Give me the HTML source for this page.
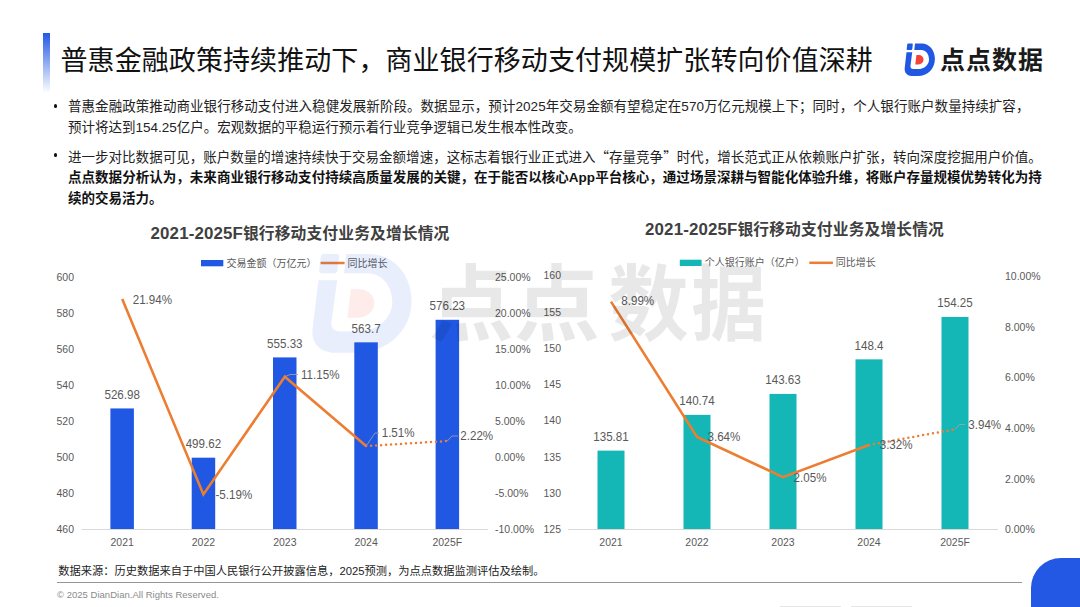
<!DOCTYPE html>
<html lang="zh-CN">
<head>
<meta charset="utf-8">
<style>
html,body{margin:0;padding:0;background:#fff;overflow:hidden;}
body{width:1080px;height:607px;overflow:hidden;position:relative;font-family:"Liberation Sans","Noto Sans CJK SC",sans-serif;}
.abs{position:absolute;}
#bar{left:43px;top:33px;width:7px;height:60px;background:linear-gradient(#2258e4,rgba(34,88,228,0));}
#title{left:60.5px;top:40.5px;letter-spacing:0.08px;font-size:27px;line-height:40px;color:#111;white-space:nowrap;font-family:"Liberation Sans","Noto Sans CJK SC",sans-serif;}
#logotext{left:940px;top:40.5px;font-size:25px;line-height:38px;font-weight:700;letter-spacing:1px;color:#1a1a1a;white-space:nowrap;font-family:"Liberation Sans","Noto Sans CJK SC",sans-serif;}
.txt{left:68px;font-size:13.5px;line-height:21px;color:#222;white-space:nowrap;}
.txt b{font-weight:700;color:#111;}
.q{font-family:"Noto Sans CJK SC",sans-serif;}
.dot{width:3.4px;height:3.4px;border-radius:50%;background:#111;}
#src{left:58.2px;top:563px;font-size:11.25px;line-height:16px;color:#222;white-space:nowrap;}
#hr{left:57px;top:582px;width:965px;height:1px;background:#969696;}
#copy{left:57px;top:587.5px;font-size:9.5px;letter-spacing:0.02px;line-height:14px;color:#8a8a8a;white-space:nowrap;}
#blue{left:1031px;top:558px;width:90px;height:80px;border-radius:30px;background:#2258e4;}
.fl{top:606px;height:1px;background:#e6e6e6;}
svg text{font-family:"Liberation Sans","Noto Sans CJK SC",sans-serif;}
</style>
</head>
<body>
<div class="abs" id="bar"></div>
<div class="abs" id="title">普惠金融政策持续推动下，商业银行移动支付规模扩张转向价值深耕</div>

<svg class="abs" style="left:0;top:0" width="1080" height="607" viewBox="0 0 1080 607">
<!--CHART-->
<rect x="110.40" y="408.44" width="23.5" height="120.56" fill="#2058e3"/>
<rect x="191.70" y="457.68" width="23.5" height="71.32" fill="#2058e3"/>
<rect x="273.00" y="357.41" width="23.5" height="171.59" fill="#2058e3"/>
<rect x="354.30" y="342.34" width="23.5" height="186.66" fill="#2058e3"/>
<rect x="435.60" y="319.79" width="23.5" height="209.21" fill="#2058e3"/>
<rect x="597.50" y="450.63" width="27" height="78.37" fill="#14b6b6"/>
<rect x="683.50" y="414.88" width="27" height="114.12" fill="#14b6b6"/>
<rect x="769.50" y="393.93" width="27" height="135.07" fill="#14b6b6"/>
<rect x="855.50" y="359.35" width="27" height="169.65" fill="#14b6b6"/>
<rect x="941.50" y="316.94" width="27" height="212.06" fill="#14b6b6"/>
<line x1="81.5" y1="529.5" x2="488" y2="529.5" stroke="#d9d9d9" stroke-width="1"/>
<text transform="translate(74.0,277.0) scale(1,1.07)" text-anchor="end" font-size="10.5" fill="#595959" dominant-baseline="central">600</text>
<text transform="translate(74.0,313.0) scale(1,1.07)" text-anchor="end" font-size="10.5" fill="#595959" dominant-baseline="central">580</text>
<text transform="translate(74.0,349.0) scale(1,1.07)" text-anchor="end" font-size="10.5" fill="#595959" dominant-baseline="central">560</text>
<text transform="translate(74.0,385.0) scale(1,1.07)" text-anchor="end" font-size="10.5" fill="#595959" dominant-baseline="central">540</text>
<text transform="translate(74.0,421.0) scale(1,1.07)" text-anchor="end" font-size="10.5" fill="#595959" dominant-baseline="central">520</text>
<text transform="translate(74.0,457.0) scale(1,1.07)" text-anchor="end" font-size="10.5" fill="#595959" dominant-baseline="central">500</text>
<text transform="translate(74.0,493.0) scale(1,1.07)" text-anchor="end" font-size="10.5" fill="#595959" dominant-baseline="central">480</text>
<text transform="translate(74.0,529.0) scale(1,1.07)" text-anchor="end" font-size="10.5" fill="#595959" dominant-baseline="central">460</text>
<text transform="translate(495.0,277.0) scale(1,1.07)" text-anchor="start" font-size="10.5" fill="#595959" dominant-baseline="central">25.00%</text>
<text transform="translate(495.0,313.0) scale(1,1.07)" text-anchor="start" font-size="10.5" fill="#595959" dominant-baseline="central">20.00%</text>
<text transform="translate(495.0,349.0) scale(1,1.07)" text-anchor="start" font-size="10.5" fill="#595959" dominant-baseline="central">15.00%</text>
<text transform="translate(495.0,385.0) scale(1,1.07)" text-anchor="start" font-size="10.5" fill="#595959" dominant-baseline="central">10.00%</text>
<text transform="translate(495.0,421.0) scale(1,1.07)" text-anchor="start" font-size="10.5" fill="#595959" dominant-baseline="central">5.00%</text>
<text transform="translate(495.0,457.0) scale(1,1.07)" text-anchor="start" font-size="10.5" fill="#595959" dominant-baseline="central">0.00%</text>
<text transform="translate(495.0,493.0) scale(1,1.07)" text-anchor="start" font-size="10.5" fill="#595959" dominant-baseline="central">-5.00%</text>
<text transform="translate(495.0,529.0) scale(1,1.07)" text-anchor="start" font-size="10.5" fill="#595959" dominant-baseline="central">-10.00%</text>
<text transform="translate(122.2,542.0) scale(1,1.07)" text-anchor="middle" font-size="10.5" fill="#595959" dominant-baseline="central">2021</text>
<text transform="translate(203.4,542.0) scale(1,1.07)" text-anchor="middle" font-size="10.5" fill="#595959" dominant-baseline="central">2022</text>
<text transform="translate(284.8,542.0) scale(1,1.07)" text-anchor="middle" font-size="10.5" fill="#595959" dominant-baseline="central">2023</text>
<text transform="translate(366.1,542.0) scale(1,1.07)" text-anchor="middle" font-size="10.5" fill="#595959" dominant-baseline="central">2024</text>
<text transform="translate(447.3,542.0) scale(1,1.07)" text-anchor="middle" font-size="10.5" fill="#595959" dominant-baseline="central">2025F</text>
<text transform="translate(122.2,394.7) scale(1,1.13)" text-anchor="middle" font-size="11.6" fill="#595959" dominant-baseline="central">526.98</text>
<text transform="translate(203.4,444.0) scale(1,1.13)" text-anchor="middle" font-size="11.6" fill="#595959" dominant-baseline="central">499.62</text>
<text transform="translate(284.8,343.7) scale(1,1.13)" text-anchor="middle" font-size="11.6" fill="#595959" dominant-baseline="central">555.33</text>
<text transform="translate(366.1,328.6) scale(1,1.13)" text-anchor="middle" font-size="11.6" fill="#595959" dominant-baseline="central">563.7</text>
<text transform="translate(447.3,306.1) scale(1,1.13)" text-anchor="middle" font-size="11.6" fill="#595959" dominant-baseline="central">576.23</text>
<polyline points="122.2,299.0 203.4,494.4 284.8,376.7 366.1,446.1" fill="none" stroke="#ed7d31" stroke-width="2.6" stroke-linejoin="miter"/>
<line x1="366.1" y1="446.1" x2="447.3" y2="441.0" stroke="#ed7d31" stroke-width="2.5" stroke-linecap="round" stroke-dasharray="0 5"/>
<text transform="translate(132.7,299.6) scale(1,1.13)" text-anchor="start" font-size="11.6" fill="#595959" dominant-baseline="central">21.94%</text>
<text transform="translate(215.5,494.3) scale(1,1.13)" text-anchor="start" font-size="11.6" fill="#595959" dominant-baseline="central">-5.19%</text>
<text transform="translate(301.0,374.8) scale(1,1.13)" text-anchor="start" font-size="11.6" fill="#595959" dominant-baseline="central">11.15%</text>
<text transform="translate(381.7,432.3) scale(1,1.13)" text-anchor="start" font-size="11.6" fill="#595959" dominant-baseline="central">1.51%</text>
<text transform="translate(460.3,435.6) scale(1,1.13)" text-anchor="start" font-size="11.6" fill="#595959" dominant-baseline="central">2.22%</text>
<polyline points="284.8,376.7 290,374.5 298,374.5" fill="none" stroke="#a6a6a6" stroke-width="0.8"/>
<polyline points="366.1,446.1 375,433 379,433" fill="none" stroke="#a6a6a6" stroke-width="0.8"/>
<polyline points="447.3,441.0 452,436 458,436" fill="none" stroke="#a6a6a6" stroke-width="0.8"/>
<line x1="568" y1="529.5" x2="998" y2="529.5" stroke="#d9d9d9" stroke-width="1"/>
<text transform="translate(561.0,275.2) scale(1,1.07)" text-anchor="end" font-size="10.5" fill="#595959" dominant-baseline="central">160</text>
<text transform="translate(561.0,311.5) scale(1,1.07)" text-anchor="end" font-size="10.5" fill="#595959" dominant-baseline="central">155</text>
<text transform="translate(561.0,347.8) scale(1,1.07)" text-anchor="end" font-size="10.5" fill="#595959" dominant-baseline="central">150</text>
<text transform="translate(561.0,384.0) scale(1,1.07)" text-anchor="end" font-size="10.5" fill="#595959" dominant-baseline="central">145</text>
<text transform="translate(561.0,420.2) scale(1,1.07)" text-anchor="end" font-size="10.5" fill="#595959" dominant-baseline="central">140</text>
<text transform="translate(561.0,456.5) scale(1,1.07)" text-anchor="end" font-size="10.5" fill="#595959" dominant-baseline="central">135</text>
<text transform="translate(561.0,492.8) scale(1,1.07)" text-anchor="end" font-size="10.5" fill="#595959" dominant-baseline="central">130</text>
<text transform="translate(561.0,529.0) scale(1,1.07)" text-anchor="end" font-size="10.5" fill="#595959" dominant-baseline="central">125</text>
<text transform="translate(1005.0,276.0) scale(1,1.07)" text-anchor="start" font-size="10.5" fill="#595959" dominant-baseline="central">10.00%</text>
<text transform="translate(1005.0,326.6) scale(1,1.07)" text-anchor="start" font-size="10.5" fill="#595959" dominant-baseline="central">8.00%</text>
<text transform="translate(1005.0,377.2) scale(1,1.07)" text-anchor="start" font-size="10.5" fill="#595959" dominant-baseline="central">6.00%</text>
<text transform="translate(1005.0,427.8) scale(1,1.07)" text-anchor="start" font-size="10.5" fill="#595959" dominant-baseline="central">4.00%</text>
<text transform="translate(1005.0,478.4) scale(1,1.07)" text-anchor="start" font-size="10.5" fill="#595959" dominant-baseline="central">2.00%</text>
<text transform="translate(1005.0,529.0) scale(1,1.07)" text-anchor="start" font-size="10.5" fill="#595959" dominant-baseline="central">0.00%</text>
<text transform="translate(611.0,542.0) scale(1,1.07)" text-anchor="middle" font-size="10.5" fill="#595959" dominant-baseline="central">2021</text>
<text transform="translate(697.0,542.0) scale(1,1.07)" text-anchor="middle" font-size="10.5" fill="#595959" dominant-baseline="central">2022</text>
<text transform="translate(783.0,542.0) scale(1,1.07)" text-anchor="middle" font-size="10.5" fill="#595959" dominant-baseline="central">2023</text>
<text transform="translate(869.0,542.0) scale(1,1.07)" text-anchor="middle" font-size="10.5" fill="#595959" dominant-baseline="central">2024</text>
<text transform="translate(955.0,542.0) scale(1,1.07)" text-anchor="middle" font-size="10.5" fill="#595959" dominant-baseline="central">2025F</text>
<text transform="translate(611.0,436.9) scale(1,1.13)" text-anchor="middle" font-size="11.6" fill="#595959" dominant-baseline="central">135.81</text>
<text transform="translate(697.0,401.2) scale(1,1.13)" text-anchor="middle" font-size="11.6" fill="#595959" dominant-baseline="central">140.74</text>
<text transform="translate(783.0,380.2) scale(1,1.13)" text-anchor="middle" font-size="11.6" fill="#595959" dominant-baseline="central">143.63</text>
<text transform="translate(869.0,345.6) scale(1,1.13)" text-anchor="middle" font-size="11.6" fill="#595959" dominant-baseline="central">148.4</text>
<text transform="translate(955.0,303.2) scale(1,1.13)" text-anchor="middle" font-size="11.6" fill="#595959" dominant-baseline="central">154.25</text>
<polyline points="611.0,301.6 697.0,436.9 783.0,477.1 869.0,445.0" fill="none" stroke="#ed7d31" stroke-width="2.6" stroke-linejoin="miter"/>
<line x1="869.0" y1="445.0" x2="955.0" y2="429.3" stroke="#ed7d31" stroke-width="2.5" stroke-linecap="round" stroke-dasharray="0 5"/>
<text transform="translate(621.3,301.2) scale(1,1.13)" text-anchor="start" font-size="11.6" fill="#595959" dominant-baseline="central">8.99%</text>
<text transform="translate(707.5,436.9) scale(1,1.13)" text-anchor="start" font-size="11.6" fill="#595959" dominant-baseline="central">3.64%</text>
<text transform="translate(793.6,477.3) scale(1,1.13)" text-anchor="start" font-size="11.6" fill="#595959" dominant-baseline="central">2.05%</text>
<text transform="translate(879.7,445.2) scale(1,1.13)" text-anchor="start" font-size="11.6" fill="#595959" dominant-baseline="central">3.32%</text>
<text transform="translate(968.3,424.3) scale(1,1.13)" text-anchor="start" font-size="11.6" fill="#595959" dominant-baseline="central">3.94%</text>
<polyline points="955.0,429.3 959.5,424.5 965,424.5" fill="none" stroke="#a6a6a6" stroke-width="0.8"/>
<text x="300" y="233.3" text-anchor="middle" font-size="15.75" font-weight="700" letter-spacing="0.13" fill="#404040" dominant-baseline="central"><tspan font-size="16.9">2021-2025F</tspan>银行移动支付业务及增长情况</text>
<text x="794.5" y="229.3" text-anchor="middle" font-size="15.75" font-weight="700" letter-spacing="0.13" fill="#404040" dominant-baseline="central"><tspan font-size="16.9">2021-2025F</tspan>银行移动支付业务及增长情况</text>
<rect x="201" y="260" width="22.3" height="6.3" fill="#2058e3"/>
<text x="226.5" y="263.0" text-anchor="start" font-size="10" fill="#595959" dominant-baseline="central">交易金额（万亿元）</text>
<line x1="320.6" y1="263" x2="344.6" y2="263" stroke="#ed7d31" stroke-width="2.5"/>
<text x="347.5" y="263.0" text-anchor="start" font-size="10" fill="#595959" dominant-baseline="central">同比增长</text>
<rect x="679.8" y="259.7" width="21.8" height="6.3" fill="#14b6b6"/>
<text x="704.8" y="262.8" text-anchor="start" font-size="10" fill="#595959" dominant-baseline="central">个人银行账户（亿户）</text>
<line x1="809.3" y1="262.8" x2="832.9" y2="262.8" stroke="#ed7d31" stroke-width="2.5"/>
<text x="835.7" y="262.8" text-anchor="start" font-size="10" fill="#595959" dominant-baseline="central">同比增长</text>
<g transform="translate(311.9,253.9) scale(3.28,3.06)"><path d="M3.7,0 L7.5,0 Q8.45,0 8.3,0.9 L7.8,5.4 Q7.7,6.3 6.8,6.3 L3.0,6.3 Q2.05,6.3 2.2,5.4 L2.7,0.9 Q2.8,0 3.7,0 Z" fill="#2058e3" fill-opacity="0.1"/><path d="M10.5,0 L17.3,0 C25,0 30.4,7 30.4,15.3 C30.4,25 23,32.3 13.5,32.3 L7,32.3 C2.5,32.3 -0.3,29 0.2,24.5 L2,8.6 L7.7,8.6 L6,22 C5.7,24.2 6.6,25.4 8.8,25.4 L13.5,25.4 C20,25.4 24.5,21 24.5,15.8 C24.5,10 21,6.3 17,6.3 L9.8,6.3 Z" fill="#2058e3" fill-opacity="0.1"/><path d="M11.9,11.5 L14,11.5 C16.9,11.5 19,13.4 19,16 C19,18.9 16.8,20.9 13.8,20.9 L10.8,20.9 Z" fill="#f4433a" fill-opacity="0.1"/></g>
<text transform="translate(429.0,305.5) scale(1.02,1)" font-size="83" font-weight="700" fill="#000" fill-opacity="0.09" dominant-baseline="central" style="font-family:'Liberation Sans','Noto Sans CJK SC',sans-serif">点</text>
<text transform="translate(514.0,305.5) scale(1.035,1)" font-size="83" font-weight="700" fill="#000" fill-opacity="0.09" dominant-baseline="central" style="font-family:'Liberation Sans','Noto Sans CJK SC',sans-serif">点</text>
<text transform="translate(608.3,305.5) scale(0.97,1)" font-size="83" font-weight="700" fill="#000" fill-opacity="0.09" dominant-baseline="central" style="font-family:'Liberation Sans','Noto Sans CJK SC',sans-serif">数</text>
<text transform="translate(691.3,305.5) scale(0.9,1)" font-size="83" font-weight="700" fill="#000" fill-opacity="0.09" dominant-baseline="central" style="font-family:'Liberation Sans','Noto Sans CJK SC',sans-serif">据</text>
<g transform="translate(904.5,43.6)"><path d="M3.7,0 L7.5,0 Q8.45,0 8.3,0.9 L7.8,5.4 Q7.7,6.3 6.8,6.3 L3.0,6.3 Q2.05,6.3 2.2,5.4 L2.7,0.9 Q2.8,0 3.7,0 Z" fill="#2058e3"/><path d="M10.5,0 L17.3,0 C25,0 30.4,7 30.4,15.3 C30.4,25 23,32.3 13.5,32.3 L7,32.3 C2.5,32.3 -0.3,29 0.2,24.5 L2,8.6 L7.7,8.6 L6,22 C5.7,24.2 6.6,25.4 8.8,25.4 L13.5,25.4 C20,25.4 24.5,21 24.5,15.8 C24.5,10 21,6.3 17,6.3 L9.8,6.3 Z" fill="#2058e3"/><path d="M11.9,11.5 L14,11.5 C16.9,11.5 19,13.4 19,16 C19,18.9 16.8,20.9 13.8,20.9 L10.8,20.9 Z" fill="#f4433a"/></g>
<!--/CHART-->

</svg>
<div class="abs" id="logotext">点点数据</div>

<div class="abs dot" style="left:53.6px;top:104.4px"></div>
<div class="abs txt" style="top:95.5px;letter-spacing:0.06px">普惠金融政策推动商业银行移动支付进入稳健发展新阶段。数据显示，预计2025年交易金额有望稳定在570万亿元规模上下；同时，个人银行账户数量持续扩容，</div>
<div class="abs txt" style="top:116.5px">预计将达到154.25亿户。宏观数据的平稳运行预示着行业竞争逻辑已发生根本性改变。</div>
<div class="abs dot" style="left:53.6px;top:153.4px"></div>
<div class="abs txt" style="top:145.5px;letter-spacing:0.025px">进一步对比数据可见，账户数量的增速持续快于交易金额增速，这标志着银行业正式进入<span class="q">“</span>存量竞争<span class="q">”</span>时代，增长范式正从依赖账户扩张，转向深度挖掘用户价值。</div>
<div class="abs txt" style="top:166.5px;letter-spacing:0.035px"><b>点点数据分析认为，未来商业银行移动支付持续高质量发展的关键，在于能否以核心App平台核心，通过场景深耕与智能化体验升维，将账户存量规模优势转化为持</b></div>
<div class="abs txt" style="top:187.5px"><b>续的交易活力。</b></div>

<div class="abs" id="src">数据来源：历史数据来自于中国人民银行公开披露信息，2025预测，为点点数据监测评估及绘制。</div>
<div class="abs" id="hr"></div>
<div class="abs" id="copy">© 2025 DianDian.All Rights Reserved.</div>
<div class="abs fl" style="left:780px;width:61px"></div>
<div class="abs fl" style="left:851px;width:61px"></div>
<div class="abs" id="blue"></div>
</body>
</html>
